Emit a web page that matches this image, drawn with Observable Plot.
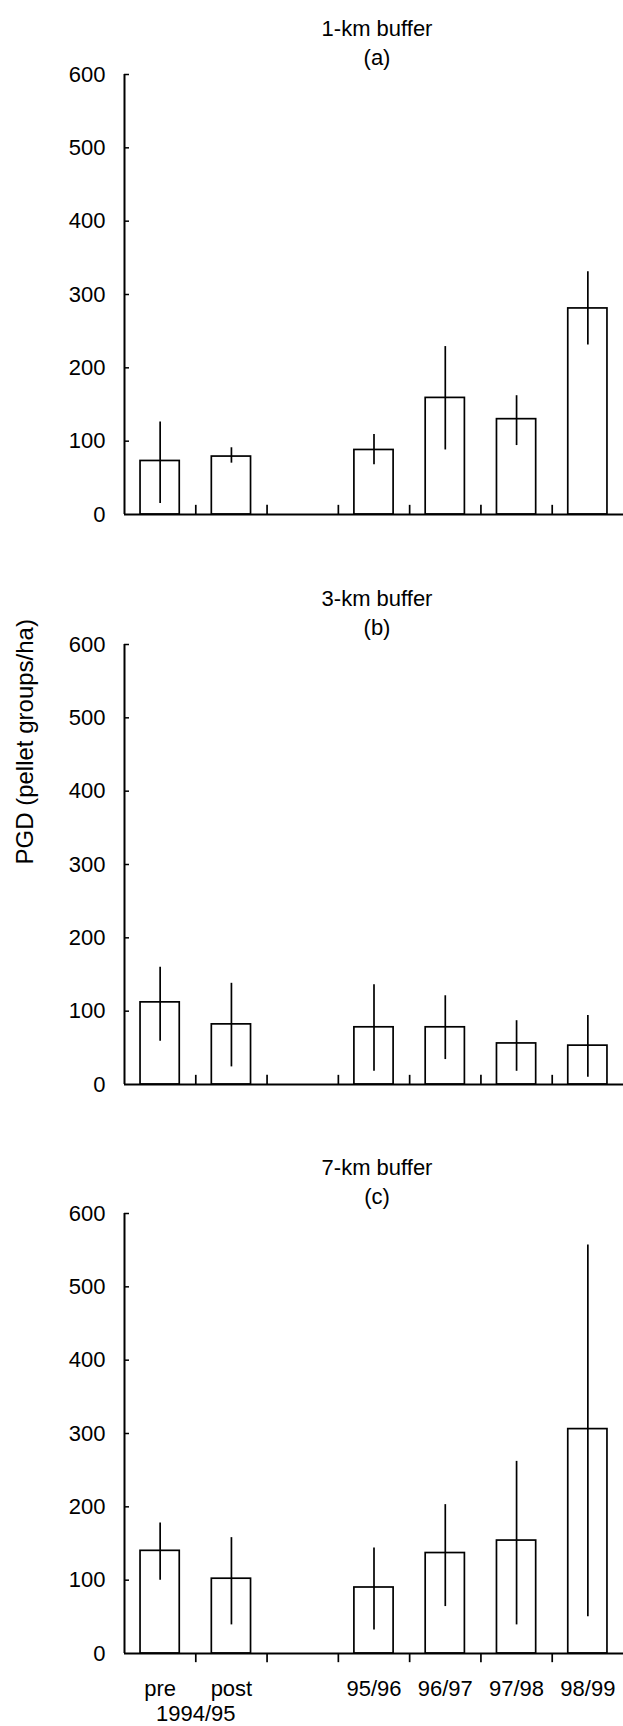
<!DOCTYPE html>
<html><head><meta charset="utf-8">
<script src="https://cdn.jsdelivr.net/npm/d3@7"></script>
<script src="https://cdn.jsdelivr.net/npm/@observablehq/plot@0.6"></script>
<style>body{margin:0;background:#fff} svg{display:block}</style>
</head><body><div id="chart"></div>
<script>
const categories = ["pre", "post", "", "95/96", "96/97", "97/98", "98/99"];
const periodLabel = "1994/95";
const titles = ["1-km buffer", "3-km buffer", "7-km buffer"];
const letters = ["(a)", "(b)", "(c)"];
const yLabel = "PGD (pellet groups/ha)";
const yTicks = [0, 100, 200, 300, 400, 500, 600];

// 1-km buffer
const meanA = [73, 79, null, 88, 159, 130, 281];
const lowA  = [15, 70, null, 68, 88, 94, 231];
const highA = [126, 91, null, 109, 229, 162, 331];
// 3-km buffer
const meanB = [112, 82, null, 78, 78, 56, 53];
const lowB  = [59, 24, null, 18, 34, 18, 10];
const highB = [160, 138, null, 136, 121, 87, 94];
// 7-km buffer
const meanC = [140, 102, null, 90, 137, 154, 306];
const lowC  = [100, 39, null, 32, 64, 39, 50];
const highC = [178, 158, null, 144, 203, 262, 557];

const panels = [
  {mean: meanA, low: lowA, high: highA},
  {mean: meanB, low: lowB, high: highB},
  {mean: meanC, low: lowC, high: highC}
];
const boundaries = d3.range(1, categories.length);
const font = "'Liberation Sans', Arial, Helvetica, sans-serif";
const layout = [
  {height: 570, top: 74, bottom: 56},
  {height: 570, top: 74, bottom: 56},
  {height: 586, top: 73, bottom: 73}
];

const root = document.getElementById("chart");
panels.forEach((p, k) => {
  const rows = categories.map((c, i) => ({i, c, mean: p.mean[i], lo: p.low[i], hi: p.high[i]}))
    .filter(d => d.mean != null);
  const last = k === 2;
  const marks = [
    Plot.rectY(rows, {x1: d => d.i + 0.225, x2: d => d.i + 0.775, y1: 0, y2: "mean",
      fill: "white", stroke: "black", strokeWidth: 1.7}),
    Plot.ruleX(rows, {x: d => d.i + 0.5, y1: "lo", y2: "hi", stroke: "black", strokeWidth: 1.7}),
    Plot.ruleY([0], {x1: 0, x2: categories.length, stroke: "black", strokeWidth: 2}),
    Plot.ruleX([0], {y1: 0, y2: 600, stroke: "black", strokeWidth: 2}),
    Plot.ruleY(yTicks.slice(1), {x1: 0, x2: 0.07, stroke: "black", strokeWidth: 1.5}),
    Plot.ruleX(boundaries, {y1: 0, y2: last ? -12.5 : 12.5, stroke: "black", strokeWidth: 1.7}),
    Plot.axisY({ticks: yTicks, tickSize: 0, tickPadding: 19, fontSize: 22, label: null, fill: "black"}),
    Plot.text([titles[k]], {frameAnchor: "top", dx: 3, dy: -54, fontSize: 22, fill: "black"}),
    Plot.text([letters[k]], {frameAnchor: "top", dx: 3, dy: -25, fontSize: 22, fill: "black"})
  ];
  if (k === 1) {
    marks.push(Plot.text([yLabel], {frameAnchor: "left", dx: -99, rotate: -90, fontSize: 24, fill: "black"}));
  }
  if (last) {
    marks.push(Plot.text(rows, {x: d => d.i + 0.5, y: 0, text: "c", dy: 35, fontSize: 22, fill: "black"}));
    marks.push(Plot.text([periodLabel], {x: 1, y: 0, dy: 60, fontSize: 22, fill: "black"}));
  }
  const svg = Plot.plot({
    width: 623,
    height: layout[k].height,
    marginLeft: 124,
    marginRight: 0,
    marginTop: layout[k].top,
    marginBottom: layout[k].bottom,
    x: {domain: [0, categories.length], axis: null},
    y: {domain: [0, 600], axis: null},
    style: {fontFamily: font, fontSize: "22px", color: "black", background: "white", overflow: "visible"},
    marks
  });
  root.appendChild(svg);
});
</script>
</body></html>
